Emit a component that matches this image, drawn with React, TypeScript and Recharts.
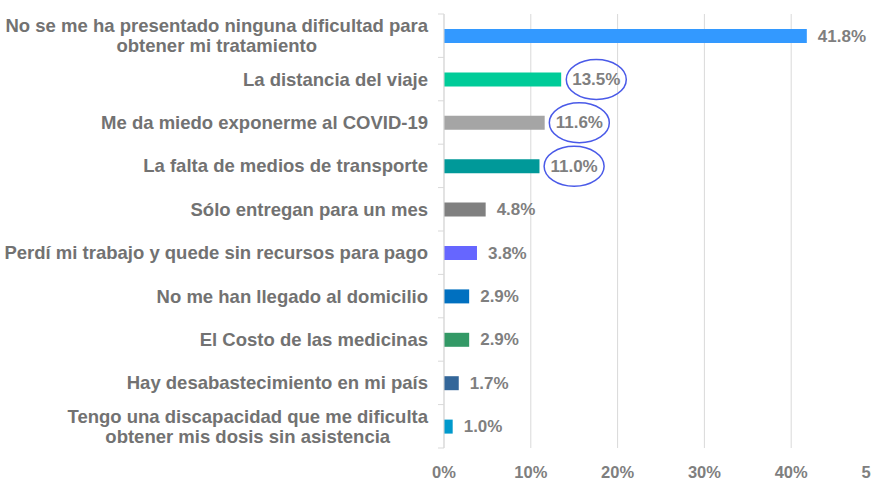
import * as React from "react";
import {
  BarChart,
  Bar,
  XAxis,
  YAxis,
  CartesianGrid,
  Cell,
  LabelList
} from "recharts";

const categories = [
  "No se me ha presentado ninguna dificultad para\nobtener mi tratamiento",
  "La distancia del viaje",
  "Me da miedo exponerme al COVID-19",
  "La falta de medios de transporte",
  "Sólo entregan para un mes",
  "Perdí mi trabajo y quede sin recursos para pago",
  "No me han llegado al domicilio",
  "El Costo de las medicinas",
  "Hay desabastecimiento en mi país",
  "Tengo una discapacidad que me dificulta\nobtener mis dosis sin asistencia"
];

const values = [41.8, 13.5, 11.6, 11.0, 4.8, 3.8, 2.9, 2.9, 1.7, 1.0];

const barColors = [
  "#3399ff",
  "#00cc99",
  "#a5a5a5",
  "#009999",
  "#808080",
  "#6666ff",
  "#0070c0",
  "#339966",
  "#336699",
  "#0099cc"
];

// labels circled by hand in the original
const circled = [false, true, true, true, false, false, false, false, false, false];

const xTicks = [0, 10, 20, 30, 40, 50];

const data = categories.map((name, i) => ({ name, value: values[i] }));

const FONT = '"Liberation Sans", Arial, sans-serif';
const TEXT_GREY = "#7f7f7f";
const LABEL_GREY = "#727272";
const CAT_SIZE = 18.5;
const VALUE_SIZE = 17;

let ctx: CanvasRenderingContext2D | null = null;
const measure = (text: string, size: number) => {
  if (!ctx) ctx = document.createElement("canvas").getContext("2d");
  if (!ctx) return text.length * size * 0.55;
  ctx.font = `bold ${size}px ${FONT}`;
  return ctx.measureText(text).width;
};

const CategoryTick = (props: any) => {
  const { x, y, payload, index, height, visibleTicksCount } = props;
  const band = height && visibleTicksCount ? height / visibleTicksCount : 43.4;
  const lines = String(payload.value).split("\n");
  const axisX = x + 16;
  let text;
  if (lines.length === 1) {
    text = (
      <text x={x} y={y} textAnchor="end" dominantBaseline="central"
        fill={LABEL_GREY} fontSize={CAT_SIZE} fontWeight="bold" fontFamily={FONT}>
        {lines[0]}
      </text>
    );
  } else {
    const w = Math.max(...lines.map((l) => measure(l, CAT_SIZE)));
    const cx = x - w / 2;
    text = (
      <text textAnchor="middle" fill={LABEL_GREY} fontSize={CAT_SIZE}
        fontWeight="bold" fontFamily={FONT}>
        {lines.map((l, i) => (
          <tspan key={i} x={cx} y={y + (i - (lines.length - 1) / 2) * 20}
            dominantBaseline="central">
            {l}
          </tspan>
        ))}
      </text>
    );
  }
  return (
    <g>
      <line x1={axisX - 6} x2={axisX} y1={y - band / 2} y2={y - band / 2} stroke="#d9d9d9" />
      {index === visibleTicksCount - 1 && (
        <line x1={axisX - 6} x2={axisX} y1={y + band / 2} y2={y + band / 2} stroke="#d9d9d9" />
      )}
      {text}
    </g>
  );
};

const ValueLabel = (props: any) => {
  const { x, y, width, height, value, index } = props;
  const label = `${Number(value).toFixed(1)}%`;
  const tx = x + width + 11;
  const cy = y + height / 2;
  const w = measure(label, VALUE_SIZE);
  return (
    <g>
      <text x={tx} y={cy} dominantBaseline="central" fill={TEXT_GREY}
        fontSize={VALUE_SIZE} fontWeight="bold" fontFamily={FONT}>
        {label}
      </text>
      {circled[index] && (
        <ellipse cx={tx + w / 2} cy={cy} rx={30} ry={20} fill="none"
          stroke="#4a5ae8" strokeWidth={1.5} />
      )}
    </g>
  );
};

export default function App() {
  return (
    <div style={{ position: "absolute", left: 0, top: 0, width: 871, height: 481,
      overflow: "hidden", background: "#fff" }}>
      <BarChart width={890} height={481} data={data} layout="vertical"
        margin={{ top: 14, right: 12, bottom: 3, left: 0 }}>
        <CartesianGrid horizontal={false} stroke="#d9d9d9" />
        <XAxis type="number" domain={[0, 50]} ticks={xTicks} interval={0}
          tickFormatter={(v) => `${v}%`} axisLine={false} tickLine={false}
          tickSize={6} tickMargin={12} height={30}
          tick={{ fill: TEXT_GREY, fontSize: 16.5, fontWeight: "bold", fontFamily: FONT }} />
        <YAxis type="category" dataKey="name" width={444} interval={0}
          axisLine={{ stroke: "#d9d9d9" }} tickLine={false} tickSize={6} tickMargin={10}
          tick={(p: any) => <CategoryTick {...p} />} />
        <Bar dataKey="value" barSize={14} isAnimationActive={false}>
          {data.map((d, i) => (
            <Cell key={d.name} fill={barColors[i]} />
          ))}
          <LabelList dataKey="value" content={(p: any) => <ValueLabel {...p} />} />
        </Bar>
      </BarChart>
    </div>
  );
}
